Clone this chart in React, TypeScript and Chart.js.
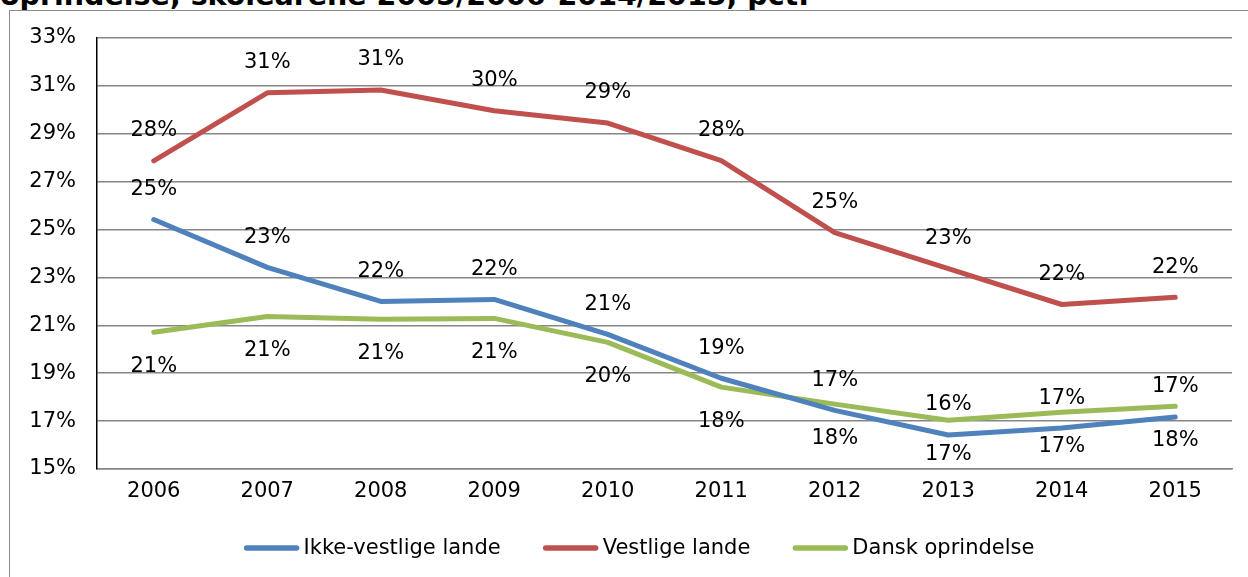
import React, { useEffect, useRef } from "react";
import { Chart, registerables } from "chart.js";

Chart.register(...registerables);

const years = ["2006", "2007", "2008", "2009", "2010", "2011", "2012", "2013", "2014", "2015"];
const ikkeVestlige = [25.42, 23.42, 22.0, 22.08, 20.62, 18.79, 17.45, 16.42, 16.71, 17.17];
const vestlige = [27.87, 30.71, 30.83, 29.96, 29.45, 27.88, 24.87, 23.37, 21.87, 22.17];
const danskOprindelse = [20.71, 21.37, 21.25, 21.29, 20.29, 18.42, 17.71, 17.04, 17.37, 17.62];
const yTicks = [15, 17, 19, 21, 23, 25, 27, 29, 31, 33];
const seriesNames = ["Ikke-vestlige lande", "Vestlige lande", "Dansk oprindelse"];
const titleText = "oprindelse, skoleårene 2005/2006-2014/2015, pct.";

const COLORS = ["#4F81BD", "#C0504D", "#9BBB59"];
const LABEL_POS = ["above", "above", "below"];
const FONT = "'DejaVu Sans', Verdana, sans-serif";
const FS = 21;

const dataLabelPlugin = {
  id: "dataLabels",
  afterDatasetsDraw(chart: any) {
    const ctx = chart.ctx;
    ctx.save();
    ctx.font = `${FS}px ${FONT}`;
    ctx.fillStyle = "#000";
    ctx.textAlign = "center";
    ctx.textBaseline = "middle";
    chart.data.datasets.forEach((ds: any, di: number) => {
      const meta = chart.getDatasetMeta(di);
      meta.data.forEach((pt: any, i: number) => {
        const v = ds.data[i];
        const off = LABEL_POS[di] === "above" ? -30 : 34;
        ctx.fillText(Math.round(v) + "%", pt.x, pt.y + off);
      });
    });
    ctx.restore();
  },
};

const legendPlugin = {
  id: "customLegend",
  afterDraw(chart: any) {
    const ctx = chart.ctx;
    ctx.save();
    ctx.font = `${FS}px ${FONT}`;
    const markerW = 56;
    const gapText = 4;
    const gapItem = 42;
    const widths = chart.data.datasets.map((ds: any) => ctx.measureText(ds.label).width);
    const total =
      widths.reduce((a: number, b: number) => a + b, 0) +
      chart.data.datasets.length * (markerW + gapText) +
      (chart.data.datasets.length - 1) * gapItem;
    let x = 639 - total / 2;
    const y = 548;
    chart.data.datasets.forEach((ds: any, i: number) => {
      ctx.strokeStyle = ds.borderColor;
      ctx.lineWidth = 5.5;
      ctx.lineCap = "round";
      ctx.beginPath();
      ctx.moveTo(x + 3, y);
      ctx.lineTo(x + markerW - 3, y);
      ctx.stroke();
      x += markerW + gapText;
      ctx.fillStyle = "#000";
      ctx.textAlign = "left";
      ctx.textBaseline = "middle";
      ctx.fillText(ds.label, x, y + 1);
      x += widths[i] + gapItem;
    });
    ctx.restore();
  },
};

export default function App() {
  const ref = useRef<HTMLCanvasElement | null>(null);

  useEffect(() => {
    if (!ref.current) return;
    const seriesData = [ikkeVestlige, vestlige, danskOprindelse];
    const chart = new Chart(ref.current, {
      type: "line",
      data: {
        labels: years,
        datasets: seriesData.map((d, i) => ({
          label: seriesNames[i],
          data: d,
          borderColor: COLORS[i],
          backgroundColor: COLORS[i],
          borderWidth: 5,
          pointRadius: 0,
          tension: 0,
          borderCapStyle: "round",
          borderJoinStyle: "round",
          fill: false,
        })),
      },
      options: {
        animation: false,
        responsive: false,
        maintainAspectRatio: false,
        layout: { padding: { left: 0, top: 38, right: 16, bottom: 68 } },
        plugins: {
          legend: { display: false },
          tooltip: { enabled: false },
          title: { display: false },
        },
        scales: {
          x: {
            offset: true,
            grid: { display: false, drawTicks: false },
            border: { display: true, color: "#868686", width: 1.5 },
            ticks: { color: "#000", font: { family: FONT, size: FS }, padding: 10, maxRotation: 0 },
            afterFit: (s: any) => {
              s.height = 40;
            },
          },
          y: {
            min: 15,
            max: 33,
            afterBuildTicks: (s: any) => {
              s.ticks = yTicks.map((v) => ({ value: v }));
            },
            grid: { color: "#868686", lineWidth: 1.5, drawTicks: false },
            border: { display: true, color: "#000", width: 1.5 },
            ticks: {
              color: "#000",
              font: { family: FONT, size: FS },
              padding: 21,
              callback: (v: any) => v + "%",
            },
            afterFit: (s: any) => {
              s.width = 97;
            },
          },
        },
      },
      plugins: [dataLabelPlugin, legendPlugin],
    });
    return () => chart.destroy();
  }, []);

  return (
    <div
      style={{
        position: "fixed",
        left: 0,
        top: 0,
        width: 1248,
        height: 577,
        overflow: "hidden",
        background: "#fff",
      }}
    >
      <div
        style={{
          position: "absolute",
          left: 0,
          top: -18,
          font: `bold 28.5px ${FONT}`,
          lineHeight: "28.5px",
          whiteSpace: "nowrap",
          color: "#000",
        }}
      >
        {titleText}
      </div>
      <div
        style={{
          position: "absolute",
          left: 9,
          top: 10,
          width: 1300,
          height: 700,
          border: "1.5px solid #8c8c8c",
          boxSizing: "border-box",
        }}
      />
      <canvas ref={ref} width={1248} height={577} style={{ position: "absolute", left: 0, top: 0 }} />
    </div>
  );
}
